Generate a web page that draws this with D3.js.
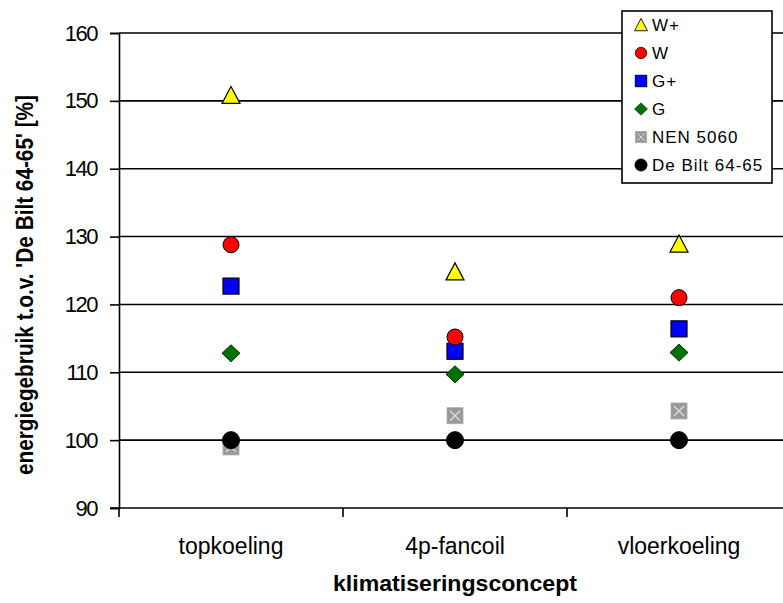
<!DOCTYPE html>
<html>
<head>
<meta charset="utf-8">
<script src="https://cdn.jsdelivr.net/npm/d3@7"></script>
<style>
  body { margin: 0; background: #fff; }
  svg { display: block; font-family: "Liberation Sans", Arial, sans-serif; }
</style>
</head>
<body>
<div id="chart"></div>
<script>
// categories on the x axis
const categories = ["topkoeling", "4p-fancoil", "vloerkoeling"];

// one value per category, per series
const seriesNames = ["W+", "W", "G+", "G", "NEN 5060", "De Bilt 64-65"];
const wPlus = [150.8, 124.8, 128.9];
const w = [128.8, 115.2, 121.0];
const gPlus = [122.7, 113.1, 116.4];
const g = [112.8, 109.7, 112.9];
const nen5060 = [99.0, 103.6, 104.3];
const deBilt = [100, 100, 100];

const yTicks = [90, 100, 110, 120, 130, 140, 150, 160];

const width = 783, height = 603;
const margin = { top: 33, right: -8, bottom: 95, left: 119 };

const svg = d3.select("#chart").append("svg")
  .attr("width", width)
  .attr("height", height);

const x = d3.scaleBand()
  .domain(categories)
  .range([margin.left, width - margin.right]);

const y = d3.scaleLinear()
  .domain([90, 160])
  .range([height - margin.bottom, margin.top]);

// gridlines
svg.append("g")
  .selectAll("line")
  .data(yTicks.slice(1))
  .join("line")
  .attr("x1", margin.left)
  .attr("x2", width)
  .attr("y1", d => y(d))
  .attr("y2", d => y(d))
  .attr("stroke", "#000")
  .attr("stroke-width", 1.6);

// y axis
const yAxis = svg.append("g")
  .attr("transform", `translate(${margin.left},0)`)
  .call(d3.axisLeft(y).tickValues(yTicks).tickSize(9).tickPadding(13));
yAxis.select(".domain").attr("stroke-width", 1.6);
yAxis.selectAll(".tick line").attr("stroke-width", 1.6);
yAxis.selectAll("text")
  .attr("font-size", 22)
  .attr("fill", "#000")
  .attr("letter-spacing", "-1.5px");

// x axis
const xAxis = svg.append("g")
  .attr("transform", `translate(0,${y(90)})`)
  .call(d3.axisBottom(x).tickSize(0).tickPadding(30));
xAxis.select(".domain").remove();
svg.append("line")
  .attr("x1", margin.left - 9).attr("x2", width)
  .attr("y1", y(90)).attr("y2", y(90))
  .attr("stroke", "#000").attr("stroke-width", 1.6);
svg.append("g")
  .selectAll("line")
  .data(categories)
  .join("line")
  .attr("x1", d => x(d)).attr("x2", d => x(d))
  .attr("y1", y(90)).attr("y2", y(90) + 9)
  .attr("stroke", "#000").attr("stroke-width", 1.6);
xAxis.selectAll("text")
  .attr("font-size", 23)
  .attr("fill", "#000");

// axis titles
svg.append("text")
  .attr("x", x("4p-fancoil") + x.bandwidth() / 2)
  .attr("y", 591)
  .attr("text-anchor", "middle")
  .attr("font-size", 22)
  .attr("font-weight", "bold")
  .attr("textLength", 244)
  .attr("lengthAdjust", "spacingAndGlyphs")
  .text("klimatiseringsconcept");

svg.append("text")
  .attr("transform", `translate(33,285) rotate(-90)`)
  .attr("text-anchor", "middle")
  .attr("font-size", 23)
  .attr("font-weight", "bold")
  .attr("textLength", 380)
  .attr("lengthAdjust", "spacingAndGlyphs")
  .text("energiegebruik t.o.v. 'De Bilt 64-65' [%]");

// series definitions (drawn bottom to top)
const series = [
  { name: seriesNames[4], values: nen5060, type: "nen" },
  { name: seriesNames[5], values: deBilt, type: "circle", fill: "#000", r: 8.5 },
  { name: seriesNames[3], values: g, type: "diamond", fill: "#007000" },
  { name: seriesNames[2], values: gPlus, type: "square", fill: "#0000ff" },
  { name: seriesNames[1], values: w, type: "circle", fill: "#ff0000", r: 8 },
  { name: seriesNames[0], values: wPlus, type: "triangle", fill: "#ffff00" }
];

function drawMarker(sel, s) {
  if (s.type === "circle") {
    sel.append("circle").attr("r", s.r)
      .attr("fill", s.fill).attr("stroke", "#000").attr("stroke-width", 1);
  } else if (s.type === "square") {
    sel.append("rect").attr("x", -8).attr("y", -8).attr("width", 16).attr("height", 16)
      .attr("fill", s.fill).attr("stroke", "#000").attr("stroke-width", 1.2);
  } else if (s.type === "diamond") {
    sel.append("path").attr("d", "M0,-8.5L9,0L0,8.5L-9,0Z")
      .attr("fill", s.fill).attr("stroke", "#003000").attr("stroke-width", 1);
  } else if (s.type === "triangle") {
    sel.append("path").attr("d", "M0,-9L9,8L-9,8Z")
      .attr("fill", s.fill).attr("stroke", "#000").attr("stroke-width", 1.2);
  } else if (s.type === "nen") {
    sel.append("rect").attr("x", -8).attr("y", -8).attr("width", 16).attr("height", 16)
      .attr("fill", "#999").attr("stroke", "#aaa").attr("stroke-width", 0.8);
    sel.append("path").attr("d", "M-5,-5L5,5M5,-5L-5,5")
      .attr("stroke", "#ddd").attr("stroke-width", 1.3);
  }
}

series.forEach(s => {
  svg.append("g")
    .selectAll("g")
    .data(categories.map((c, i) => ({ c, v: s.values[i] })))
    .join("g")
    .attr("transform", d => `translate(${x(d.c) + x.bandwidth() / 2},${y(d.v)})`)
    .each(function() { drawMarker(d3.select(this), s); });
});

// legend
const legend = svg.append("g");
legend.append("rect")
  .attr("x", 622).attr("y", 11)
  .attr("width", 150).attr("height", 172)
  .attr("fill", "#fff").attr("stroke", "#000").attr("stroke-width", 1.6);

const legendOrder = [5, 4, 3, 2, 0, 1].map(i => series[i]);
legendOrder.forEach((s, i) => {
  const ly = 25 + i * 28;
  const m = legend.append("g")
    .attr("transform", `translate(641,${ly}) scale(0.72)`);
  drawMarker(m, s);
  legend.append("text")
    .attr("x", 652).attr("y", ly)
    .attr("dy", "0.36em")
    .attr("font-size", 17)
    .attr("letter-spacing", "1px")
    .text(s.name);
});
</script>
</body>
</html>
